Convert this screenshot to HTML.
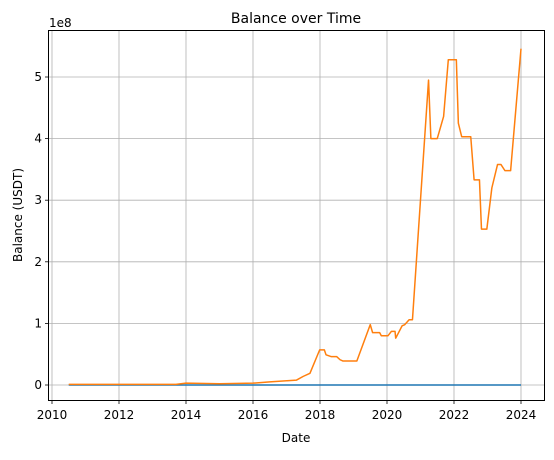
<!DOCTYPE html>
<html><head><meta charset="utf-8"><style>
body{margin:0;background:#fff}
svg{font-family:"DejaVu Sans","Liberation Sans",sans-serif}
</style></head><body>
<svg id="chart" width="554" height="455" xmlns="http://www.w3.org/2000/svg">
<text x="296" y="23" font-size="14" text-anchor="middle">Balance over Time</text>
<text x="49" y="27" font-size="12">1e8</text>
<text x="296" y="442" font-size="12" text-anchor="middle">Date</text>
<text transform="translate(22,215) rotate(-90)" font-size="12" text-anchor="middle">Balance (USDT)</text>
<g id="grid"></g><g id="series"></g><g id="ticks"></g>
<rect x="48.5" y="30.5" width="496" height="370" fill="none" stroke="#000" stroke-width="1"/>
</svg>
<script>
const xTicks=[2010,2012,2014,2016,2018,2020,2022,2024];
const yTicks=[0,1,2,3,4,5];
const blueYears=[2010.5,2024.0];
const blueValues=[0,0];
const orangeYears=[2010.5,2013.7,2014.0,2015.0,2016.0,2016.5,2017.3,2017.5,2017.7,2017.99,2018.13,2018.18,2018.34,2018.5,2018.6,2018.68,2019.1,2019.5,2019.57,2019.78,2019.83,2020.03,2020.13,2020.24,2020.26,2020.45,2020.53,2020.66,2020.76,2021.24,2021.31,2021.5,2021.69,2021.83,2022.07,2022.1,2022.13,2022.23,2022.5,2022.6,2022.76,2022.82,2022.98,2023.13,2023.3,2023.4,2023.52,2023.69,2024.0];
const orangeValues=[0.01,0.01,0.03,0.02,0.03,0.05,0.08,0.14,0.19,0.57,0.57,0.49,0.46,0.46,0.41,0.39,0.39,0.98,0.85,0.85,0.8,0.8,0.87,0.87,0.76,0.96,0.98,1.06,1.06,4.95,4.0,4.0,4.36,5.28,5.28,4.76,4.25,4.03,4.03,3.33,3.33,2.53,2.53,3.2,3.58,3.58,3.48,3.48,5.46];
const NS='http://www.w3.org/2000/svg';
const X=v=>52+(v-2010)*(521-52)/14;
const Y=v=>385-v*61.6;
function mk(t,a,p){const e=document.createElementNS(NS,t);for(const k in a)e.setAttribute(k,a[k]);p.appendChild(e);return e;}
const g=document.getElementById('grid'),tk=document.getElementById('ticks'),s=document.getElementById('series');
xTicks.forEach(v=>{const x=X(v);
const l=mk('line',{x1:x,x2:x,y1:30.5,y2:400.5,stroke:'#b0b0b0','stroke-width':0.8},g);


mk('line',{x1:x,x2:x,y1:400.5,y2:404,stroke:'#000','stroke-width':0.8},tk);
const t=mk('text',{x:x,y:419,'font-size':12,'text-anchor':'middle'},tk);t.textContent=v;

});
yTicks.forEach(v=>{const y=Y(v);
const l=mk('line',{x1:48.5,x2:544.5,y1:y,y2:y,stroke:'#b0b0b0','stroke-width':0.8},g);


mk('line',{x1:45,x2:48.5,y1:y,y2:y,stroke:'#000','stroke-width':0.8},tk);
const t=mk('text',{x:42,y:y+4,'font-size':12,'text-anchor':'end'},tk);t.textContent=v;

});
function line(xs,ys,c,n){const p=mk('polyline',{points:xs.map((x,i)=>X(x)+','+Y(ys[i])).join(' '),fill:'none',stroke:c,'stroke-width':1.5,'stroke-linejoin':'round'},s);

}
line(blueYears,blueValues,'#1f77b4','series-blue-line');
line(orangeYears,orangeValues,'#ff7f0e','series-orange-line');
</script>
</body></html>
